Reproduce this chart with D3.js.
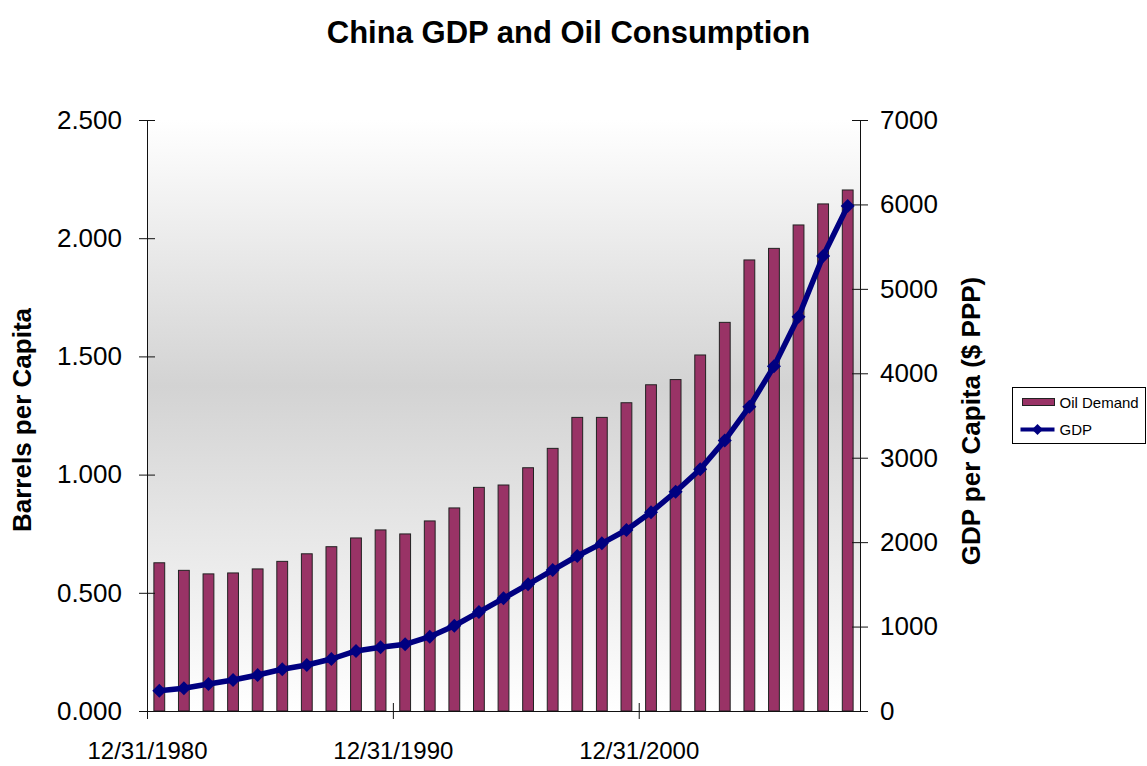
<!DOCTYPE html>
<html>
<head>
<meta charset="utf-8">
<script src="https://cdn.jsdelivr.net/npm/d3@7"></script>
<style>
body { margin: 0; background: #fff; }
svg { display: block; font-family: "Liberation Sans", Arial, sans-serif; }
</style>
</head>
<body>
<svg id="chart" width="1147" height="766"></svg>
<script>
// one category per year, the date axis labels are 12/31/YYYY
const years = [1980, 1981, 1982, 1983, 1984, 1985, 1986, 1987, 1988, 1989,
    1990, 1991, 1992, 1993, 1994, 1995, 1996, 1997, 1998, 1999,
    2000, 2001, 2002, 2003, 2004, 2005, 2006, 2007, 2008];
const oilDemand = [0.627, 0.595, 0.580, 0.584, 0.601, 0.633, 0.665, 0.695, 0.732, 0.766,
    0.749, 0.804, 0.859, 0.946, 0.956, 1.029, 1.111, 1.242, 1.242, 1.304,
    1.380, 1.402, 1.506, 1.644, 1.908, 1.957, 2.056, 2.145, 2.204];
const gdp = [240, 269, 320, 367, 426, 494, 545, 616, 711, 754,
    790, 880, 1010, 1172, 1335, 1501, 1670, 1836, 1986, 2144,
    2353, 2597, 2863, 3205, 3604, 4082, 4670, 5389, 5981];
const leftTicks = [0, 0.5, 1, 1.5, 2, 2.5];
const rightTicks = [0, 1000, 2000, 3000, 4000, 5000, 6000, 7000];
const dateTicks = [1980, 1990, 2000];

const svg = d3.select("#chart");
const plot = { left: 147, right: 860, top: 120, bottom: 711 };

const x = d3.scaleLinear([1980, 2009], [plot.left, plot.right]);
const yLeft = d3.scaleLinear([0, 2.5], [plot.bottom, plot.top]);
const yRight = d3.scaleLinear([0, 7000], [plot.bottom, plot.top]);
const band = x(1981) - x(1980);
const barWidth = band * 0.44;

// plot area background
const grad = svg.append("defs").append("linearGradient")
    .attr("id", "bg").attr("x1", 0).attr("y1", 0).attr("x2", 0).attr("y2", 1);
grad.append("stop").attr("offset", "0%").attr("stop-color", "#ffffff");
grad.append("stop").attr("offset", "45%").attr("stop-color", "#d3d3d3");
grad.append("stop").attr("offset", "100%").attr("stop-color", "#ffffff");

svg.append("rect")
    .attr("x", plot.left).attr("y", plot.top)
    .attr("width", plot.right - plot.left).attr("height", plot.bottom - plot.top)
    .attr("fill", "url(#bg)");

svg.append("g").selectAll("rect")
    .data(oilDemand)
    .join("rect")
    .attr("x", (d, i) => x(years[i] + 0.5) - barWidth / 2)
    .attr("y", d => yLeft(d))
    .attr("width", barWidth)
    .attr("height", d => yLeft(0) - yLeft(d))
    .attr("fill", "#993366")
    .attr("stroke", "#222")
    .attr("stroke-width", 1);

// axes
const leftAxis = svg.append("g")
    .attr("transform", `translate(${plot.left},0)`)
    .call(d3.axisLeft(yLeft).tickValues(leftTicks).tickFormat(d3.format(".3f")).tickSizeOuter(0));
leftAxis.selectAll(".tick line").attr("x1", 8).attr("x2", -8);
leftAxis.selectAll(".tick text").attr("x", -25);

const rightAxis = svg.append("g")
    .attr("transform", `translate(${plot.right},0)`)
    .call(d3.axisRight(yRight).tickValues(rightTicks).tickFormat(d3.format("d")).tickSizeOuter(0));
rightAxis.selectAll(".tick line").attr("x1", -8).attr("x2", 8);
rightAxis.selectAll(".tick text").attr("x", 20);

const bottomAxis = svg.append("g")
    .attr("transform", `translate(0,${plot.bottom})`)
    .call(d3.axisBottom(x).tickValues(dateTicks).tickFormat(d => `12/31/${d}`).tickSizeOuter(0));
bottomAxis.selectAll(".tick line").attr("y1", -8).attr("y2", 8);
bottomAxis.selectAll(".tick text").attr("y", 31).style("font-size", "24px");

svg.selectAll(".domain, .tick line").attr("stroke", "#111");
[leftAxis, rightAxis, bottomAxis].forEach(a => a.attr("font-family", null).attr("font-size", 26));
svg.selectAll(".tick text").attr("fill", "#000");

// GDP line
const line = d3.line()
    .x((d, i) => x(years[i] + 0.5))
    .y(d => yRight(d));

svg.append("path")
    .datum(gdp)
    .attr("d", line)
    .attr("fill", "none")
    .attr("stroke", "#000080")
    .attr("stroke-width", 5.5)
    .attr("stroke-linejoin", "round");

const marker = d3.symbol(d3.symbolSquare, 98);
svg.append("g").selectAll("path")
    .data(gdp)
    .join("path")
    .attr("d", marker)
    .attr("transform", (d, i) => `translate(${x(years[i] + 0.5)},${yRight(d)}) rotate(45)`)
    .attr("fill", "#000080");

// titles
svg.append("text")
    .attr("x", 568.5).attr("y", 43)
    .attr("text-anchor", "middle")
    .style("font-size", "31px").style("font-weight", "bold")
    .text("China GDP and Oil Consumption");

svg.append("text")
    .attr("transform", "translate(31,420) rotate(-90)")
    .attr("text-anchor", "middle")
    .style("font-size", "26px").style("font-weight", "bold")
    .text("Barrels per Capita");

svg.append("text")
    .attr("transform", "translate(980,421) rotate(-90)")
    .attr("text-anchor", "middle")
    .style("font-size", "26px").style("font-weight", "bold")
    .text("GDP per Capita ($ PPP)");

// legend
const legend = svg.append("g").attr("transform", "translate(1012.5,387.5)");
legend.append("rect")
    .attr("width", 133).attr("height", 56)
    .attr("fill", "#fff").attr("stroke", "#000");
legend.append("rect")
    .attr("x", 10).attr("y", 11).attr("width", 32).attr("height", 7)
    .attr("fill", "#993366").attr("stroke", "#222");
legend.append("text")
    .attr("x", 47).attr("y", 20)
    .style("font-size", "15px")
    .text("Oil Demand");
legend.append("line")
    .attr("x1", 8).attr("x2", 42).attr("y1", 42).attr("y2", 42)
    .attr("stroke", "#000080").attr("stroke-width", 4);
legend.append("path")
    .attr("d", d3.symbol(d3.symbolSquare, 60))
    .attr("transform", "translate(25,42) rotate(45)")
    .attr("fill", "#000080");
legend.append("text")
    .attr("x", 47).attr("y", 47)
    .style("font-size", "15px")
    .text("GDP");
</script>
</body>
</html>
